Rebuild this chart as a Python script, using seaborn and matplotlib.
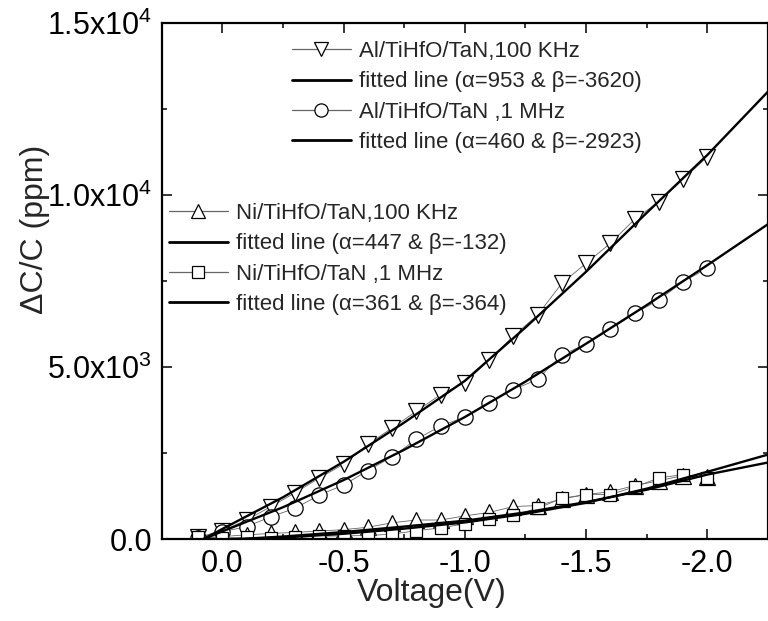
import numpy as np
import pandas as pd
import matplotlib
matplotlib.use("Agg")
import matplotlib.pyplot as plt
import seaborn as sns
from matplotlib.lines import Line2D
from matplotlib.ticker import FixedLocator, FixedFormatter, MultipleLocator

# ---------------- data ----------------
voltage = [0.1, 0.0, -0.1, -0.2, -0.3, -0.4, -0.5, -0.6, -0.7, -0.8, -0.9,
           -1.0, -1.1, -1.2, -1.3, -1.4, -1.5, -1.6, -1.7, -1.8, -1.9, -2.0]

al_100k = [60, 250, 560, 950, 1350, 1780, 2180, 2760, 3230, 3720, 4200,
           4550, 5206, 5903, 6513, 7433, 8014, 8595, 9291, 9803, 10453, 11109]
al_1m = [50, 220, 366, 656, 900, 1286, 1577, 1992, 2398, 2900, 3290,
         3550, 3967, 4345, 4646, 5351, 5671, 6097, 6562, 6948, 7480, 7869]
ni_100k = [40, 80, 130, 170, 200, 240, 280, 350, 480, 560, 560,
           680, 780, 950, 980, 1170, 1300, 1380, 1560, 1700, 1850, 1800]
ni_1m = [60, 40, 60, 40, 60, 90, 100, 110, 150, 250, 330,
         450, 600, 700, 900, 1190, 1300, 1300, 1520, 1780, 1880, 1780]

# fitted lines
fit_v_al = [0.08, 0.0, -0.25, -0.5, -0.75, -1.0, -1.25, -1.5, -1.75, -2.0, -2.25]
fit_al_100k = [0, 300, 1220, 2250, 3390, 4600, 6150, 7770, 9480, 11160, 13000]
fit_al_1m = [0, 230, 930, 1720, 2600, 3550, 4580, 5680, 6800, 7960, 9150]
fit_v_ni = [-0.05, -0.25, -0.5, -0.75, -1.0, -1.25, -1.5, -1.75, -2.0, -2.25]
fit_ni_100k = [0, 50, 160, 310, 490, 740, 1060, 1470, 1960, 2460]
fit_ni_1m = [0, 80, 210, 370, 540, 780, 1080, 1440, 1880, 2230]

labels_top = ["Al/TiHfO/TaN,100 KHz", "fitted line (\u03b1=953 & \u03b2=-3620)",
              "Al/TiHfO/TaN ,1 MHz", "fitted line (\u03b1=460 & \u03b2=-2923)"]
labels_mid = ["Ni/TiHfO/TaN,100 KHz", "fitted line (\u03b1=447 & \u03b2=-132)",
              "Ni/TiHfO/TaN ,1 MHz", "fitted line (\u03b1=361 & \u03b2=-364)"]

xtick_values = [0.0, -0.5, -1.0, -1.5, -2.0]
xtick_labels = ["0.0", "-0.5", "-1.0", "-1.5", "-2.0"]
ytick_values = [0, 5000, 10000, 15000]
ytick_labels = ["0.0", r"5.0x10$^{3}$", r"1.0x10$^{4}$", r"1.5x10$^{4}$"]

# ---------------- style ----------------
sns.set_theme(style="ticks")
plt.rcParams["font.family"] = ["Liberation Sans", "DejaVu Sans"]
plt.rcParams["mathtext.fontset"] = "custom"
plt.rcParams["mathtext.rm"] = "Liberation Sans"
plt.rcParams["mathtext.it"] = "Liberation Sans"
plt.rcParams["axes.unicode_minus"] = False

fig = plt.figure(figsize=(7.68, 6.21), dpi=100)
ax = fig.add_axes([161.7 / 768, 1 - 539.3 / 621, (768 - 161.7) / 768, 516.6 / 621])

data_style = dict(color="#666666", lw=0.6, mfc="white", mec="black", mew=0.9,
                  sort=False, estimator=None, legend=False, ax=ax)
sns.lineplot(x=voltage, y=al_100k, marker="v", markersize=12, **data_style)
sns.lineplot(x=voltage, y=al_1m, marker="o", markersize=11, **data_style)
sns.lineplot(x=voltage, y=ni_100k, marker="^", markersize=12, **data_style)
sns.lineplot(x=voltage, y=ni_1m, marker="s", markersize=9, **data_style)

fit_style = dict(color="black", lw=1.7, sort=False, estimator=None, legend=False, ax=ax)
sns.lineplot(x=fit_v_al, y=fit_al_100k, **fit_style)
sns.lineplot(x=fit_v_al, y=fit_al_1m, **fit_style)
sns.lineplot(x=fit_v_ni, y=fit_ni_100k, **fit_style)
sns.lineplot(x=fit_v_ni, y=fit_ni_1m, **fit_style)

ax.set_xlim(0.25, -2.25)
ax.set_ylim(0, 15000)

ax.xaxis.set_major_locator(FixedLocator(xtick_values))
ax.xaxis.set_major_formatter(FixedFormatter(xtick_labels))
ax.xaxis.set_minor_locator(MultipleLocator(0.25))
ax.yaxis.set_major_locator(FixedLocator(ytick_values))
ax.yaxis.set_major_formatter(FixedFormatter(ytick_labels))
ax.yaxis.set_minor_locator(MultipleLocator(2500))

ax.tick_params(which="both", direction="in", top=True, right=True, colors="black",
               labelsize=22)
ax.tick_params(which="major", length=7, width=1.1, pad=7)
ax.tick_params(which="minor", length=3.8, width=1.1)
for s in ax.spines.values():
    s.set_linewidth(1.6)
    s.set_color("black")

ax.set_xlabel("Voltage(V)", fontsize=23)
ax.set_ylabel("\u0394C/C (ppm)", fontsize=23)
ax.xaxis.set_label_coords(0.446, -0.075)
ax.yaxis.set_label_coords(-0.185, 0.60)


def data_handle(marker, ms):
    return Line2D([], [], color="#666666", lw=0.9, marker=marker, markersize=ms,
                  mfc="white", mec="black", mew=0.9)


fit_handle = Line2D([], [], color="black", lw=2.0)

leg_kw = dict(loc="upper left", frameon=False, fontsize=16, borderpad=0,
              borderaxespad=0, handlelength=2.65, handletextpad=0.35,
              labelspacing=0.42, bbox_transform=fig.transFigure)
leg1 = ax.legend([data_handle("v", 10), fit_handle, data_handle("o", 9.5), fit_handle],
                 labels_top, bbox_to_anchor=(292 / 768, 1 - 41 / 621), **leg_kw)
ax.add_artist(leg1)
leg2 = ax.legend([data_handle("^", 10), fit_handle, data_handle("s", 8), fit_handle],
                 labels_mid, bbox_to_anchor=(169 / 768, 1 - 203 / 621), **leg_kw)

fig.savefig("out.png", dpi=100)
